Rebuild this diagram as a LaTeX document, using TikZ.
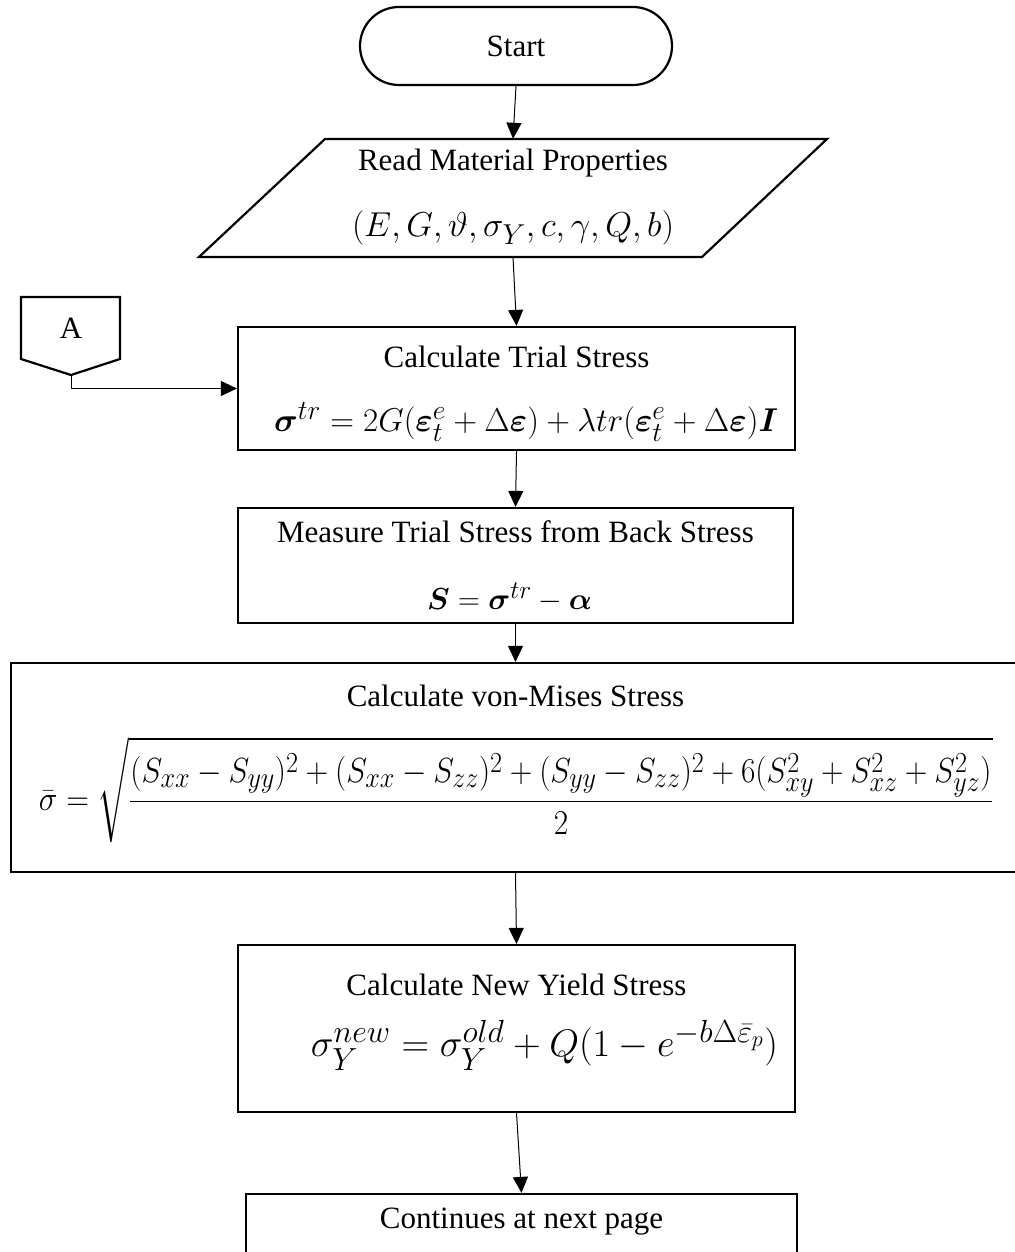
\documentclass[tikz,border=0pt]{standalone}
\usepackage{amsmath}
\usepackage{fontspec}
\setmainfont{Liberation Serif}
\usetikzlibrary{arrows.meta,calc}
\begin{document}
\begin{tikzpicture}[x=1pt,y=-1pt,
  box/.style={draw, line width=2.2pt, inner sep=0pt},
  shp/.style={draw, line width=2.2pt, line join=miter},
  txt/.style={font=\fontsize{31}{37}\selectfont, inner sep=0pt},
  arr/.style={-{Triangle[width=15pt,length=16pt]}, line width=1pt},
  ]
\useasboundingbox[fill=white] (0,0) rectangle (1014,1252);

% Start
\node[box, rounded corners=39pt, minimum width=312pt, minimum height=78pt] (start) at (516,46) {};
\node[txt] (starttxt) at (516,46) {Start};

% Read material properties (parallelogram)
\node[inner sep=0pt, minimum width=500pt, minimum height=118pt] (read) at (513,198) {};
\draw[shp] (325,139) -- (827,139) -- (702,257) -- (199,257) -- cycle;
\node[txt] (readt1) at (513,163) {Read Material Properties};
\node[txt] (readt2) at (513,228) {\resizebox{322pt}{!}{$(E,G,\vartheta,\sigma_Y,c,\gamma,Q,b)$}};

% Connector A
\draw[shp] (21,297) -- (120,297) -- (120,359) -- (71,375) -- (21,359) -- cycle;
\node[txt] (A) at (71,328) {A};
\coordinate (Atip) at (71,375);

% Trial stress
\node[box, minimum width=557pt, minimum height=123pt] (trial) at (516.5,388.5) {};
\node[txt] (trialt1) at (516.5,357) {Calculate Trial Stress};
\node[txt] (trialt2) at (526,422) {\resizebox{504pt}{!}{$\boldsymbol{\sigma}^{tr}=2G(\boldsymbol{\varepsilon}_t^e+\Delta\boldsymbol{\varepsilon})+\lambda tr(\boldsymbol{\varepsilon}_t^e+\Delta\boldsymbol{\varepsilon})\boldsymbol{I}$}};

% Measure
\node[box, minimum width=555pt, minimum height=115pt] (measure) at (515.5,565.5) {};
\node[txt] (meast1) at (515.5,532) {Measure Trial Stress from Back Stress};
\node[txt] (meast2) at (509.5,597) {\resizebox{165pt}{!}{$\boldsymbol{S}=\boldsymbol{\sigma}^{tr}-\boldsymbol{\alpha}$}};

% von Mises
\node[box, minimum width=1009pt, minimum height=209pt] (vm) at (515.5,767.5) {};
\node[txt] (vmt1) at (515.5,696) {Calculate von-Mises Stress};
\node[txt] (vmt2) at (516,790) {\resizebox*{954pt}{106pt}{$\displaystyle\bar{\sigma}=\sqrt{\frac{(S_{xx}-S_{yy})^2+(S_{xx}-S_{zz})^2+(S_{yy}-S_{zz})^2+6(S_{xy}^2+S_{xz}^2+S_{yz}^2)}{2}}$}};

% Yield
\node[box, minimum width=557pt, minimum height=167pt] (yield) at (516.5,1028.5) {};
\node[txt] (yieldt1) at (516.5,985) {Calculate New Yield Stress};
\node[txt] (yieldt2) at (544.5,1045) {\resizebox{467pt}{!}{$\sigma_Y^{new}=\sigma_Y^{old}+Q(1-e^{-b\Delta\bar{\varepsilon}_p})$}};

% Continue
\node[box, minimum width=551pt, minimum height=71pt] (cont) at (521.5,1229.5) {};
\node[txt] (contt) at (521.5,1222) {Continues at next page};

% Connectors
\draw[arr] (start.south) -- (read.north);
\draw[arr] (read.south) -- (trial.north);
\draw[arr] (Atip) |- (trial.west);
\draw[arr] (trial.south) -- (measure.north);
\draw[arr] (measure.south) -- (vm.north);
\draw[arr] (vm.south) -- (yield.north);
\draw[arr] (yield.south) -- (cont.north);
\end{tikzpicture}
\end{document}
